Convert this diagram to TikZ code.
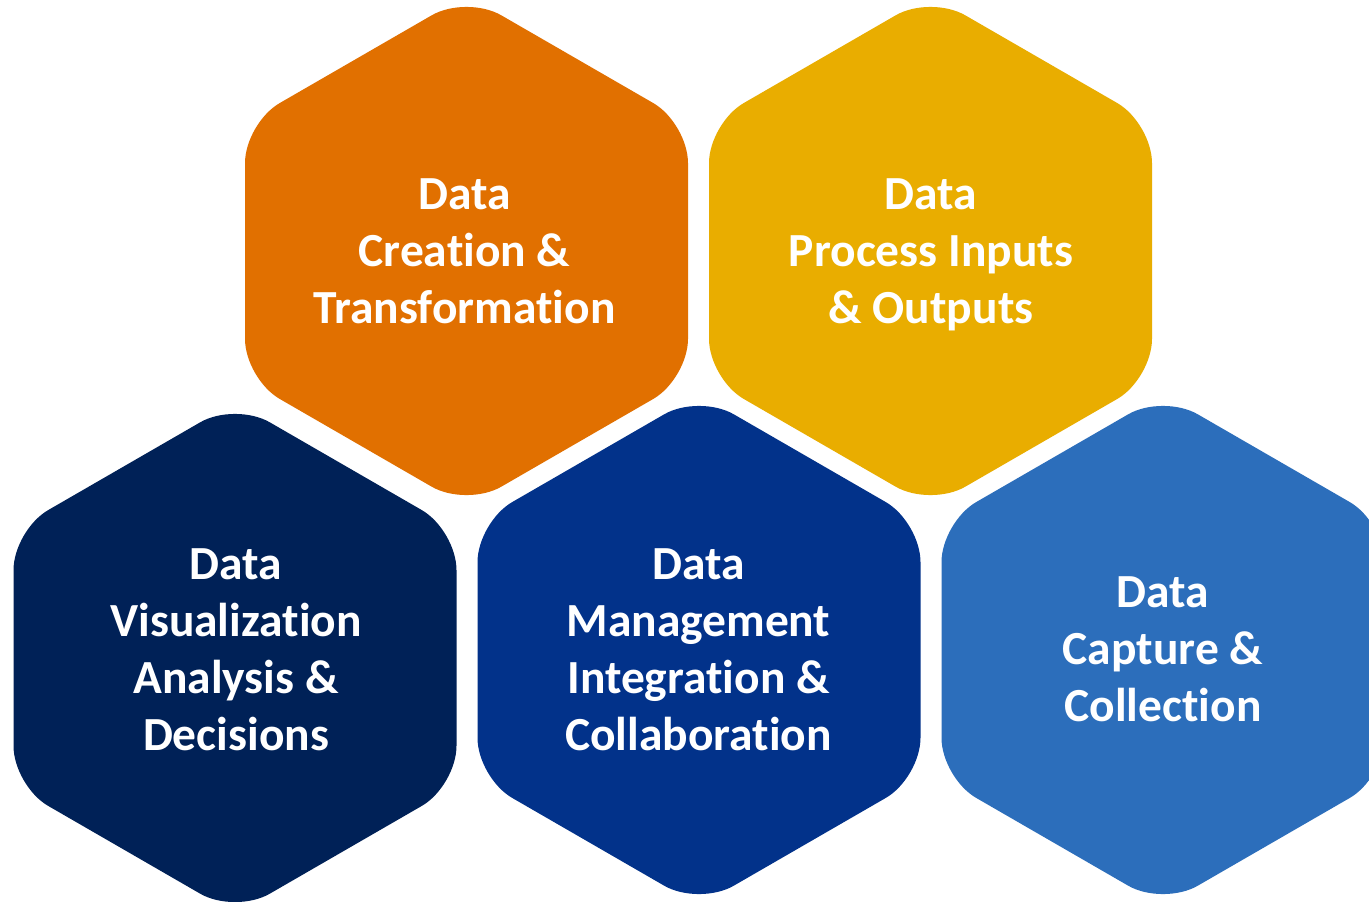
\documentclass[tikz,border=0pt]{standalone}
\usepackage{fontspec}
\setmainfont{Carlito}[Ligatures={NoCommon}]
\definecolor{hexorange}{HTML}{E17000}
\definecolor{hexyellow}{HTML}{E9AD00}
\definecolor{hexnavy}{HTML}{002157}
\definecolor{hexblue}{HTML}{02328A}
\definecolor{hexlight}{HTML}{2C6EBB}
\tikzset{
  hexa/.pic={
    \fill[pic actions, rounded corners=40pt]
      (221.5,0) -- (221.5,-127.885) -- (0,-255.77) -- (-221.5,-127.885)
      -- (-221.5,127.885) -- (0,255.77) -- (221.5,127.885) -- cycle;
  },
  lbl/.style={text=white, align=center, inner sep=0pt,
    font=\fontsize{47.5}{57}\selectfont\bfseries}
}
\begin{document}
\begin{tikzpicture}[x=1pt,y=-1pt]
\clip (0,0) rectangle (1369,902);
\fill[white] (0,0) rectangle (1369,902);
\pic[fill=hexorange] (h1) at (466.5,251) {hexa};
\pic[fill=hexyellow] (h2) at (930.5,251) {hexa};
\pic[fill=hexnavy] (h3) at (235,658) {hexa};
\pic[fill=hexblue] (h4) at (699,650) {hexa};
\pic[fill=hexlight] (h5) at (1163,650) {hexa};
\node[lbl] (t1) at (464.5,255.5) {\strut Data\\Creation \&\\Transformation\strut};
\node[lbl] (t2) at (931,255) {\strut Data\\Process Inputs\\\& Outputs\strut};
\node[lbl] (t3) at (236,653.5) {\strut Data\\Visualization\\Analysis \&\\Decisions\strut};
\node[lbl] (t4) at (698.5,653.5) {\strut Data\\Management\\Integration \&\\Collaboration\strut};
\node[lbl] (t5) at (1163,653.5) {\strut Data\\Capture \&\\Collection\strut};
\end{tikzpicture}
\end{document}
